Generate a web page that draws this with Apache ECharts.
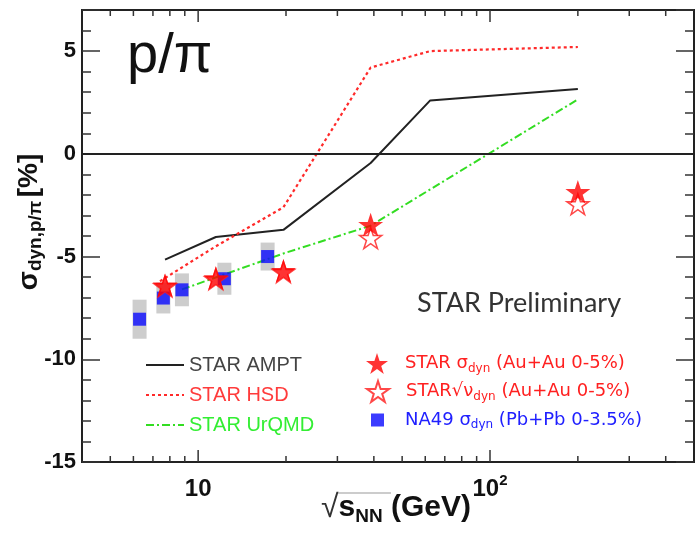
<!DOCTYPE html>
<html>
<head>
<meta charset="utf-8">
<script src="https://cdn.jsdelivr.net/npm/echarts@6.0.0/dist/echarts.min.js"></script>
<style>
  html, body { margin: 0; padding: 0; background: #fff; }
  #chart { width: 697px; height: 533px; }
</style>
</head>
<body>
<div id="chart"></div>
<script>
// model curves (sqrt(s_NN) in GeV, sigma_dyn in %)
const amptX = [7.7, 11.5, 19.6, 39, 62.4, 200]
const amptY = [-5.15, -4.05, -3.7, -0.45, 2.6, 3.15]
const hsdX = [7.4, 11.5, 19.6, 39, 62.4, 200]
const hsdY = [-6.2, -4.5, -2.6, 4.2, 5.0, 5.2]
const urqmdX = [8.8, 19.6, 39, 200]
const urqmdY = [-6.6, -4.85, -3.5, 2.65]

// STAR data
const starX = [7.7, 11.5, 19.6, 39, 200]
const starSigma = [-6.4, -6.05, -5.7, -3.45, -1.85]
const starNu = [-6.45, -6.1, -5.75, -4.1, -2.45]

// NA49 data with systematic boxes
const na49X = [6.3, 7.6, 8.8, 12.3, 17.3]
const na49Y = [-8.05, -7.02, -6.62, -6.08, -5.0]
const na49Err = [0.95, 0.75, 0.8, 0.78, 0.68]

// log axis ticks
const xMajorTicks = [10, 100]
const xMinorTicks = [5, 6, 7, 8, 9, 20, 30, 40, 50, 60, 70, 80, 90, 200, 300, 400]

const SANS = "'Liberation Sans', Arial, sans-serif"
const STAR_PATH = 'path://M50 0L61.23 34.55L97.55 34.55L68.17 55.9L79.39 90.45L50 69.1L20.61 90.45L31.83 55.9L2.45 34.55L38.77 34.55Z'
const SQUARE_PATH = 'path://M0 0L10 0L10 10L0 10Z'

const zip = (xs, ys) => xs.map((x, i) => [x, ys[i]])

const chart = echarts.init(document.getElementById('chart'))

// rich styles for the data legend (sub = subscript)
const legendRich = {
  g1: { width: 12 },
  g2: { width: 16 },
  n: { fontSize: 18, fontFamily: 'DejaVu Sans', lineHeight: 22 },
  r: { fontSize: 18, fontFamily: 'DejaVu Sans', lineHeight: 22 },
  s: { fontSize: 12, fontFamily: 'DejaVu Sans', lineHeight: 12, verticalAlign: 'bottom' },
}
const withColor = (c) => {
  const out = {}
  Object.keys(legendRich).forEach(k => { out[k] = Object.assign({ color: c }, legendRich[k]) })
  return out
}
const legendLabels = {
  'STAR σdyn': '{g1|}{n|STAR σ}{s|dyn}{n| (Au+Au 0-5%)}',
  'STAR √νdyn': '{g1|}{n|STAR}{r|√ν}{s|dyn}{n| (Au+Au 0-5%)}',
  'NA49 σdyn': '{g2|}{n|NA49 σ}{s|dyn}{n| (Pb+Pb 0-3.5%)}',
}

const yAxisCommon = {
  type: 'value',
  min: -15,
  max: 7,
  interval: 5,
  axisLine: { show: true, lineStyle: { color: '#222', width: 2 } },
  axisTick: { show: true, inside: true, length: 18, lineStyle: { color: '#333', width: 1.5 } },
  minorTick: { show: true, splitNumber: 5, length: 9, lineStyle: { color: '#333', width: 1.5 } },
  splitLine: { show: false },
}

const hiddenSymbol = { color: 'rgba(0,0,0,0)', borderWidth: 0, opacity: 0 }

chart.setOption({
  animation: false,
  grid: {
    left: 82, top: 10, right: -2, bottom: 71,
    show: true, borderColor: '#222', borderWidth: 2,
  },
  xAxis: {
    type: 'log',
    logBase: 10,
    min: 4,
    max: 500,
    axisLine: { show: true, lineStyle: { color: '#222', width: 2 } },
    axisTick: { show: false },
    minorTick: { show: false },
    splitLine: { show: false },
    axisLabel: {
      margin: 11,
      formatter: v => {
        const e = Math.log10(v)
        if (Math.abs(e - 1) < 1e-6) return '{b|10}'
        if (Math.abs(e - 2) < 1e-6) return '{b|10}{sup|2}'
        return ''
      },
      rich: {
        b: { fontSize: 24, fontWeight: 'bold', fontFamily: SANS, color: '#111', lineHeight: 32 },
        sup: { fontSize: 15, fontWeight: 'bold', fontFamily: SANS, color: '#111', lineHeight: 14, verticalAlign: 'top' },
      },
    },
  },
  yAxis: [
    Object.assign({}, yAxisCommon, {
      position: 'left',
      axisLabel: {
        margin: 6,
        fontSize: 22,
        fontWeight: 'bold',
        fontFamily: SANS,
        color: '#111',
        formatter: v => (v % 5 === 0 ? String(v) : ''),
      },
    }),
    Object.assign({}, yAxisCommon, {
      position: 'right',
      axisLabel: { show: false },
    }),
  ],
  legend: [
    {
      left: 145, top: 355, orient: 'vertical', padding: 0,
      itemWidth: 38, itemHeight: 14, itemGap: 10,
      selectedMode: false,
      itemStyle: hiddenSymbol,
      textStyle: { fontSize: 20, fontFamily: SANS, lineHeight: 20 },
      data: [
        { name: 'STAR AMPT', textStyle: { color: '#444' } },
        { name: 'STAR HSD', textStyle: { color: '#ff3b3b' } },
        { name: 'STAR UrQMD', textStyle: { color: '#33ee33' } },
      ],
    },
    {
      left: 366, top: 353, padding: 0, itemWidth: 22, itemHeight: 22,
      selectedMode: false,
      data: ['STAR σdyn'],
      formatter: name => legendLabels[name],
      textStyle: { rich: withColor('#ff2020') },
    },
    {
      left: 366, top: 380, padding: 0, itemWidth: 22, itemHeight: 22,
      selectedMode: false,
      data: ['STAR √νdyn'],
      formatter: name => legendLabels[name],
      textStyle: { rich: withColor('#ff2020') },
    },
    {
      left: 371, top: 411, padding: 0, itemWidth: 13, itemHeight: 13,
      selectedMode: false,
      data: ['NA49 σdyn'],
      formatter: name => legendLabels[name],
      textStyle: { rich: withColor('#2020ff') },
    },
  ],
  graphic: [
    {
      type: 'text', x: 127, y: 57,
      style: { text: 'p/π', fontSize: 56, fontFamily: SANS, fill: '#111', align: 'left', verticalAlign: 'middle' },
    },
    {
      type: 'text', x: 417, y: 303,
      style: { text: 'STAR Preliminary', fontSize: 27, fontFamily: 'Lato, Carlito, sans-serif', fill: '#333', align: 'left', verticalAlign: 'middle' },
    },
    {
      type: 'text', x: 29, y: 222, rotation: Math.PI / 2,
      style: {
        text: '{g|σ}{s|dyn,p/π} {g|[%]}',
        align: 'center', verticalAlign: 'middle',
        rich: {
          g: { fontSize: 28, fontWeight: 'bold', fontFamily: SANS, fill: '#111', lineHeight: 32 },
          s: { fontSize: 19, fontWeight: 'bold', fontFamily: SANS, fill: '#111', lineHeight: 18, verticalAlign: 'bottom' },
        },
      },
    },
    {
      type: 'text', x: 321, y: 508,
      style: {
        text: '{r|√}{s|s}{n|NN}{s| (GeV)}',
        align: 'left', verticalAlign: 'middle',
        rich: {
          r: { fontSize: 32, fontFamily: SANS, fill: '#333', lineHeight: 36 },
          s: { fontSize: 30, fontWeight: 'bold', fontFamily: SANS, fill: '#111', lineHeight: 36 },
          n: { fontSize: 19, fontWeight: 'bold', fontFamily: SANS, fill: '#111', lineHeight: 18, verticalAlign: 'bottom' },
        },
      },
    },
    {
      type: 'line',
      shape: { x1: 338, y1: 493, x2: 391, y2: 493 },
      style: { stroke: '#999', lineWidth: 1 },
    },
  ],
  series: [
    {
      name: 'xticks',
      type: 'custom',
      silent: true,
      encode: { x: 0 },
      data: xMajorTicks.map(v => [v, 1]).concat(xMinorTicks.map(v => [v, 0])),
      renderItem: (params, api) => {
        const cs = params.coordSys
        const x = api.coord([api.value(0), 0])[0]
        const len = api.value(1) ? 12 : 6
        const bottom = cs.y + cs.height
        const style = { stroke: '#333', lineWidth: 1.5 }
        return {
          type: 'group',
          children: [
            { type: 'line', shape: { x1: x, y1: bottom, x2: x, y2: bottom - len }, style },
            { type: 'line', shape: { x1: x, y1: cs.y, x2: x, y2: cs.y + len }, style },
          ],
        }
      },
      z: 1,
    },
    {
      name: 'NA49 sys',
      type: 'custom',
      silent: true,
      encode: { x: 0, y: [1, 2] },
      data: na49X.map((x, i) => [x, na49Y[i] - na49Err[i], na49Y[i] + na49Err[i]]),
      renderItem: (params, api) => {
        const lo = api.coord([api.value(0), api.value(1)])
        const hi = api.coord([api.value(0), api.value(2)])
        return {
          type: 'rect',
          shape: { x: lo[0] - 7, y: hi[1], width: 14, height: lo[1] - hi[1] },
          style: { fill: '#cdcdcd' },
        }
      },
      z: 2,
    },
    {
      name: 'STAR AMPT',
      type: 'line',
      data: zip(amptX, amptY),
      symbol: 'none',
      color: '#222',
      lineStyle: { color: '#222', width: 2 },
      markLine: {
        silent: true,
        symbol: ['none', 'none'],
        label: { show: false },
        lineStyle: { color: '#222', width: 2, type: 'solid' },
        data: [{ yAxis: 0 }],
      },
      z: 3,
    },
    {
      name: 'STAR HSD',
      type: 'line',
      data: zip(hsdX, hsdY),
      symbol: 'none',
      color: '#ff2a2a',
      lineStyle: { color: '#ff2a2a', width: 2.2, type: [3, 3] },
      z: 3,
    },
    {
      name: 'STAR UrQMD',
      type: 'line',
      data: zip(urqmdX, urqmdY),
      symbol: 'none',
      color: '#33dd22',
      lineStyle: { color: '#33dd22', width: 2, type: [8, 3, 2, 3] },
      z: 3,
    },
    {
      name: 'NA49 σdyn',
      type: 'scatter',
      data: zip(na49X, na49Y),
      symbol: SQUARE_PATH,
      symbolSize: 13,
      itemStyle: { color: '#0a0aff' },
      z: 4,
    },
    {
      name: 'STAR √νdyn',
      type: 'scatter',
      data: zip(starX, starNu),
      symbol: STAR_PATH,
      symbolKeepAspect: true,
      symbolSize: 22,
      itemStyle: { color: 'rgba(255,255,255,0)', borderColor: '#ff1a1a', borderWidth: 1.5 },
      z: 5,
    },
    {
      name: 'STAR σdyn',
      type: 'scatter',
      data: zip(starX, starSigma),
      symbol: STAR_PATH,
      symbolKeepAspect: true,
      symbolSize: 25,
      itemStyle: { color: '#ff0000' },
      z: 6,
    },
  ],
})
</script>
</body>
</html>
